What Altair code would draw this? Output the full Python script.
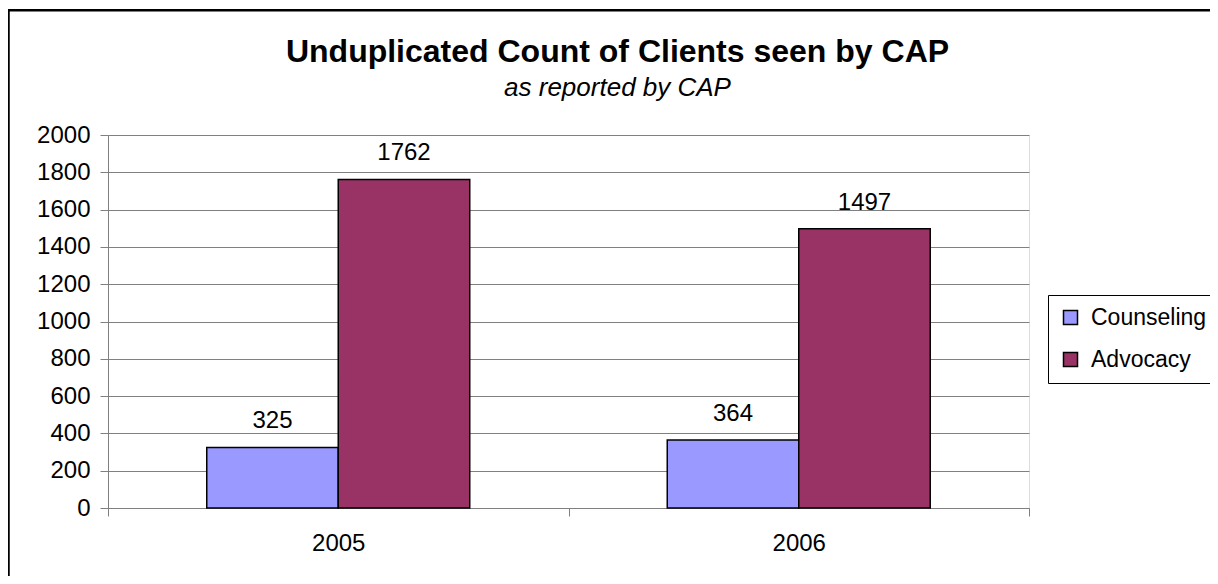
import altair as alt
import pandas as pd

years = ["2005", "2006"]
series = ["Counseling", "Advocacy"]
counseling = [325, 364]
advocacy = [1762, 1497]
colors = ["#9999FF", "#993366"]
y_ticks = [0, 200, 400, 600, 800, 1000, 1200, 1400, 1600, 1800, 2000]
title_text = "Unduplicated Count of Clients seen by CAP"
subtitle_text = "as reported by CAP"

rows = []
for i, yr in enumerate(years):
    rows.append({"Year": yr, "Series": series[0], "Count": counseling[i]})
    rows.append({"Year": yr, "Series": series[1], "Count": advocacy[i]})
df = pd.DataFrame(rows)

FONT = "Liberation Sans"

x_enc = alt.X("Year:N", sort=years, title=None,
              scale=alt.Scale(paddingInner=0, paddingOuter=0),
              axis=alt.Axis(labelAngle=0, tickBand="extent", tickSize=8,
                            tickColor="#808080", domainColor="#808080",
                            labelFontSize=24, labelFont=FONT, labelColor="black",
                            labelPadding=15, grid=False))
xo_enc = alt.XOffset("Series:N", sort=series,
                     scale=alt.Scale(paddingInner=0, paddingOuter=0.751))
y_enc = alt.Y("Count:Q", title=None,
              scale=alt.Scale(domain=[0, 2000], nice=False),
              axis=alt.Axis(values=y_ticks, format="d", labelOverlap=False,
                            labelFlush=False, tickSize=8, tickColor="#808080",
                            domainColor="#808080", gridColor="#808080",
                            labelFontSize=24, labelFont=FONT, labelColor="black",
                            labelPadding=10))

bars = alt.Chart(df).mark_bar(stroke="black", strokeWidth=1.5).encode(
    x=x_enc,
    xOffset=xo_enc,
    y=y_enc,
    color=alt.Color("Series:N", sort=series,
                    scale=alt.Scale(domain=series, range=colors),
                    legend=alt.Legend(title=None, orient="none", legendX=940, legendY=160,
                                      strokeColor="black", padding=11,
                                      symbolType="square", symbolSize=196,
                                      symbolStrokeColor="black", symbolStrokeWidth=1.5,
                                      labelFontSize=23, labelFont=FONT, labelColor="black",
                                      labelOffset=9, rowPadding=18)),
)

labels = alt.Chart(df).mark_text(baseline="alphabetic", dy=-19, fontSize=24,
                                 font=FONT, color="black").encode(
    x=x_enc,
    xOffset=xo_enc,
    y=y_enc,
    text="Count:Q",
)

title_df = pd.DataFrame({"t": [title_text]})
sub_df = pd.DataFrame({"t": [subtitle_text]})

title_mark = alt.Chart(title_df).mark_text(fontSize=32, fontWeight="bold", font=FONT,
                                           color="black", baseline="alphabetic").encode(
    text="t:N", x=alt.value(509.5), y=alt.value(-73))
sub_mark = alt.Chart(sub_df).mark_text(fontSize=26, fontStyle="italic", font=FONT,
                                       color="black", baseline="alphabetic").encode(
    text="t:N", x=alt.value(509.5), y=alt.value(-39))

frame = alt.Chart(title_df).mark_rect(fillOpacity=0, stroke="black", strokeWidth=2.5).encode(
    x=alt.value(-99.5), x2=alt.value(1300), y=alt.value(-124.7), y2=alt.value(600))

chart = alt.layer(bars, labels, title_mark, sub_mark, frame).properties(
    width=921, height=373,
    autosize=alt.AutoSizeParams(type="none"),
    padding={"left": 100, "top": 127, "right": 181, "bottom": 68},
).configure_view(stroke="#808080").configure(background="white")

chart.save("out.html", embed_options={"renderer": "svg", "actions": False})
